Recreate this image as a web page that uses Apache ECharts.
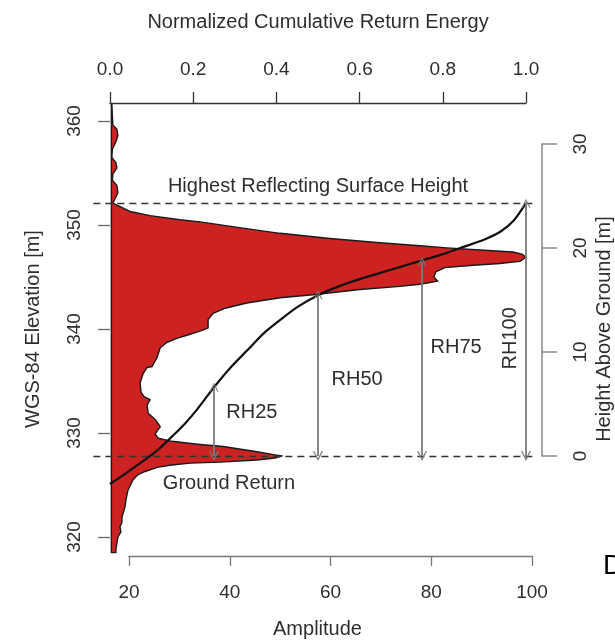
<!DOCTYPE html>
<html>
<head>
<meta charset="utf-8">
<script src="https://cdn.jsdelivr.net/npm/echarts@6/dist/echarts.min.js"></script>
<style>
html,body{margin:0;padding:0;background:#fff;}
#c{width:615px;height:642px;}
</style>
</head>
<body>
<div id="c"></div>
<script>
// ---- waveform profile (amplitude vs WGS-84 elevation), top to bottom ----
const elevation = [
  361.6, 360.5, 359.6, 359.2, 358.6, 358.0, 357.3, 356.5, 356.0, 355.5,
  354.9, 354.3, 353.8, 353.1, 352.5, 352.1, 351.3, 350.9, 350.5, 350.3,
  349.6, 349.2, 348.7, 348.3, 348.0, 347.8, 347.6, 347.4, 347.2, 346.9,
  346.5, 346.3, 346.1, 345.9, 345.5, 345.0, 344.6, 344.3, 344.1, 343.8,
  343.3, 343.0, 342.5, 342.0, 341.5, 340.9, 340.1, 339.8, 339.4, 339.1,
  338.7, 338.2, 337.3, 336.4, 336.3, 335.7, 334.8, 333.9, 333.5, 333.2,
  332.7, 331.9, 331.3, 330.6, 330.2, 329.9, 329.5, 329.2, 328.9, 328.7,
  328.2, 327.9, 327.8, 327.6, 327.4, 327.2, 327.1, 326.9, 326.7, 326.3,
  326.0, 325.5, 324.5, 323.6, 322.9, 321.9, 321.4, 321.0, 320.5, 320.0,
  319.4, 318.8, 318.5
];
const amplitude = [
  16.6, 16.7, 16.8, 17.6, 17.8, 17.4, 16.7, 16.6, 17.4, 17.6,
  16.8, 16.7, 17.6, 17.8, 17.2, 16.8, 20.2, 24.2, 30.1, 34.1,
  44.0, 50.0, 59.9, 69.8, 77.8, 83.1, 89.7, 96.2, 98.0, 98.8,
  97.6, 93.6, 87.7, 82.7, 80.9, 80.5, 81.3, 77.8, 73.8, 65.9,
  56.5, 50.0, 43.4, 39.1, 36.7, 35.7, 35.7, 34.1, 31.5, 29.5,
  27.5, 26.2, 25.6, 24.6, 23.6, 22.8, 22.2, 22.4, 23.0, 24.2,
  23.6, 23.8, 25.2, 26.2, 25.6, 25.2, 25.8, 28.5, 34.1, 38.7,
  45.4, 49.0, 50.4, 49.0, 45.4, 38.1, 32.1, 28.1, 25.6, 23.2,
  21.8, 20.8, 19.8, 19.4, 19.2, 18.6, 18.6, 18.2, 18.4, 17.8,
  17.6, 17.4, 17.4
];
const amplitudeBase = 16.5;

// ---- normalized cumulative return energy curve ----
const cumEnergy = [0, 0.03, 0.06, 0.09, 0.12, 0.15, 0.18, 0.21, 0.25, 0.29, 0.33, 0.37, 0.41, 0.45, 0.50,
  0.55, 0.60, 0.65, 0.70, 0.75, 0.80, 0.85, 0.90, 0.94, 0.97, 1.0];
const cumElevation = [325.1, 325.9, 326.75, 327.6, 328.55, 329.7, 330.9, 332.3, 334.4, 336.3, 337.95, 339.6, 340.9, 342.1, 343.25,
  344.1, 344.8, 345.4, 346.0, 346.6, 347.2, 347.9, 348.6, 349.4, 350.4, 352.1];

// ---- reference levels ----
const groundElevation = 327.8;
const highestSurfaceElevation = 352.1;
const levelLineSpan = [-0.04, 1.02];   // energy units

// ---- relative heights ----
const rhNames = ['RH25', 'RH50', 'RH75', 'RH100'];
const rhEnergy = [0.25, 0.5, 0.75, 1.0];
const rhHeight = [6.6, 15.5, 18.7, 24.3];

// ---- annotation texts (energy, elevation) ----
const noteTexts = ['Highest Reflecting Surface Height', 'Ground Return', 'RH25', 'RH50', 'RH75', 'RH100'];
const noteX = [0.5, 0.127, 0.341, 0.594, 0.832, 0.962];
const noteY = [353.75, 325.1, 332.0, 335.1, 338.2, 339.1];
const noteAlign = ['center', 'left', 'center', 'center', 'center', 'center'];
const noteRotate = [0, 0, 0, 0, 0, 90];

// ---- axes ticks ----
const elevTicks = { min: 320, max: 360, interval: 10 };
const ampTicks = { min: 20, max: 100, interval: 20 };
const energyTicks = { min: 0, max: 1, interval: 0.2 };
const heightTicks = { min: 0, max: 30, interval: 10 };

const FONT = '"Liberation Sans", Arial, Helvetica, sans-serif';
const TXT = '#2e2e2e';

// layout
const G0 = { left: 110, top: 121, width: 416, height: 416 };
const pxPerM = G0.height / (elevTicks.max - elevTicks.min);
const rightTop = G0.top + (elevTicks.max - (groundElevation + heightTicks.max)) * pxPerM;
const rightHeight = (heightTicks.max - heightTicks.min) * pxPerM;

const chevron = 'path://M0,10 L5,0 L10,10 L8.7,10 L5,2.6 L1.3,10 Z';

const chart = echarts.init(document.getElementById('c'), null, { renderer: 'canvas' });

const option = {
  animation: false,
  backgroundColor: '#fff',
  textStyle: { fontFamily: FONT, color: TXT },
  grid: [
    { left: G0.left, top: G0.top, width: G0.width, height: G0.height, outerBoundsMode: 'none', containLabel: false },
    { left: 129, top: G0.top, width: 403, height: G0.height, outerBoundsMode: 'none', containLabel: false },
    { left: 541, top: rightTop, width: 1, height: rightHeight, outerBoundsMode: 'none', containLabel: false }
  ],
  xAxis: [
    {
      gridIndex: 0, type: 'value', position: 'top', offset: 18,
      min: energyTicks.min, max: energyTicks.max, interval: energyTicks.interval,
      axisLine: { show: true, onZero: false, lineStyle: { color: '#333', width: 1.3 } },
      axisTick: { show: true, length: 11, lineStyle: { color: '#333', width: 1.3 } },
      axisLabel: { show: true, margin: 24, fontSize: 19, color: TXT, fontFamily: FONT, formatter: v => v.toFixed(1) },
      splitLine: { show: false },
      name: 'Normalized Cumulative Return Energy', nameLocation: 'middle', nameGap: 71,
      nameTextStyle: { fontSize: 20, color: TXT, fontFamily: FONT }
    },
    {
      gridIndex: 1, type: 'value', position: 'bottom', offset: 19,
      min: ampTicks.min, max: ampTicks.max, interval: ampTicks.interval,
      axisLine: { show: true, onZero: false, lineStyle: { color: '#777', width: 1.3 } },
      axisTick: { show: true, length: 10, lineStyle: { color: '#777', width: 1.3 } },
      axisLabel: { show: true, margin: 27, fontSize: 19, color: TXT, fontFamily: FONT },
      splitLine: { show: false },
      name: 'Amplitude', nameLocation: 'middle', nameGap: 63,
      nameTextStyle: { fontSize: 20, color: TXT, fontFamily: FONT, padding: [0, 26, 0, 0] }
    },
    { gridIndex: 2, type: 'value', min: 0, max: 1, show: false }
  ],
  yAxis: [
    {
      gridIndex: 0, type: 'value', position: 'left',
      min: elevTicks.min, max: elevTicks.max, interval: elevTicks.interval,
      axisLine: { show: false, onZero: false },
      axisTick: { show: true, length: 12, lineStyle: { color: '#666', width: 1.3 } },
      axisLabel: { show: true, rotate: 90, margin: 26, fontSize: 19, color: TXT, fontFamily: FONT },
      splitLine: { show: false },
      name: 'WGS-84 Elevation [m]', nameLocation: 'middle', nameGap: 67, nameRotate: 90,
      nameTextStyle: { fontSize: 20, color: TXT, fontFamily: FONT }
    },
    {
      gridIndex: 0, type: 'value', position: 'right', offset: 16,
      min: elevTicks.min, max: elevTicks.max,
      axisLine: { show: false, onZero: false }, axisTick: { show: false },
      axisLabel: { show: false }, splitLine: { show: false },
      name: 'Height Above Ground [m]', nameLocation: 'middle', nameGap: 52, nameRotate: 90,
      nameTextStyle: { fontSize: 20, color: TXT, fontFamily: FONT }
    },
    {
      gridIndex: 1, type: 'value', min: elevTicks.min, max: elevTicks.max, show: false
    },
    {
      gridIndex: 2, type: 'value', position: 'right',
      min: heightTicks.min, max: heightTicks.max, interval: heightTicks.interval,
      axisLine: { show: true, onZero: false, lineStyle: { color: '#888', width: 1.5 } },
      axisTick: { show: true, length: 15, lineStyle: { color: '#888', width: 1.5 } },
      axisLabel: { show: true, rotate: 90, margin: 29, fontSize: 19, color: TXT, fontFamily: FONT },
      splitLine: { show: false }
    }
  ],
  series: [
    {
      type: 'custom', xAxisIndex: 1, yAxisIndex: 2, z: 1, clip: false,
      data: amplitude.map((a, i) => [a, elevation[i]]),
      renderItem: function (params, api) {
        if (params.dataIndex !== 0) return null;
        const pts = [api.coord([amplitudeBase, elevation[0]])];
        for (let i = 0; i < amplitude.length; i++) pts.push(api.coord([amplitude[i], elevation[i]]));
        pts.push(api.coord([amplitudeBase, elevation[elevation.length - 1]]));
        return {
          type: 'polygon', shape: { points: pts },
          style: { fill: '#cc2222', stroke: '#1a1a1a', lineWidth: 1.4, lineJoin: 'round' }
        };
      }
    },
    {
      type: 'line', xAxisIndex: 0, yAxisIndex: 0, z: 3,
      data: cumEnergy.map((x, i) => [x, cumElevation[i]]),
      smooth: 0.25, symbol: 'none', clip: false,
      lineStyle: { color: '#111', width: 2.2 }
    },
    {
      type: 'lines', coordinateSystem: 'cartesian2d', xAxisIndex: 0, yAxisIndex: 0, z: 4, clip: false,
      symbol: ['none', 'none'],
      lineStyle: { color: '#333', width: 1.3, type: [7, 5], opacity: 1 },
      data: [
        { coords: [[levelLineSpan[0], highestSurfaceElevation], [levelLineSpan[1], highestSurfaceElevation]] },
        { coords: [[levelLineSpan[0], groundElevation], [levelLineSpan[1], groundElevation]] }
      ]
    },
    {
      type: 'lines', coordinateSystem: 'cartesian2d', xAxisIndex: 0, yAxisIndex: 0, z: 5, clip: false,
      symbol: [chevron, chevron], symbolSize: [10, 9],
      lineStyle: { color: '#7a7a7a', width: 1.8, opacity: 1 },
      data: rhEnergy.map((q, i) => ({ coords: [[q, groundElevation], [q, groundElevation + rhHeight[i]]] }))
    },
    {
      type: 'scatter', xAxisIndex: 0, yAxisIndex: 0, z: 6, clip: false,
      symbolSize: 0, silent: true,
      itemStyle: { opacity: 1 },
      data: noteTexts.map((t, i) => ({
        name: t, value: [noteX[i], noteY[i]],
        label: { align: noteAlign[i], rotate: noteRotate[i] }
      })),
      label: {
        show: true, position: 'inside', formatter: p => p.name, opacity: 1,
        fontSize: 20, color: TXT, fontFamily: FONT
      }
    }
  ],
  graphic: [
    { type: 'text', left: 603, top: 552, style: { text: 'D', fontSize: 28, fontFamily: FONT, fill: '#000' } }
  ]
};
chart.setOption(option);
</script>
</body>
</html>
